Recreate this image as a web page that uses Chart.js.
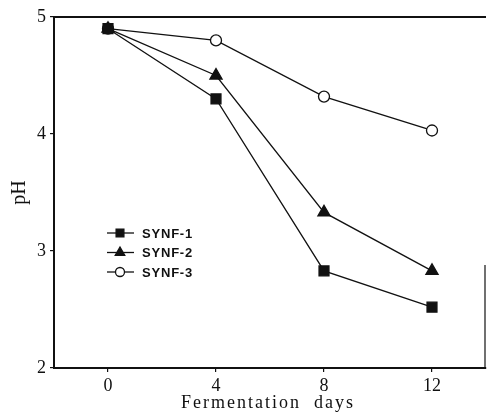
<!DOCTYPE html>
<html lang="en">
  <head>
    <meta charset="UTF-8" />
    <title>pH during fermentation</title>
    <script src="https://cdn.jsdelivr.net/npm/chart.js"></script>
    <style>
      html, body { margin: 0; padding: 0; background: #fff; overflow: hidden; }
      #wrap { position: relative; width: 487px; height: 420px; }
    </style>
  </head>
  <body>
    <div id="wrap"><canvas id="phChart"></canvas></div>
    <script>
      const days = [0, 4, 8, 12];
      const synf1 = [4.9, 4.3, 2.83, 2.52];
      const synf2 = [4.9, 4.5, 3.33, 2.83];
      const synf3 = [4.9, 4.8, 4.32, 4.03];
      const seriesNames = ["SYNF-1", "SYNF-2", "SYNF-3"];
      const xTicks = [0, 4, 8, 12];
      const yTicks = [2, 3, 4, 5];
      const xTitle = "Fermentation  days";

      const ink = "#111";
      const serif = "'Liberation Serif', 'DejaVu Serif', serif";

      const toPoints = (vals) => vals.map((v, i) => ({ x: days[i], y: v }));

      // box lines, x title and legend drawn by hand
      const framePlugin = {
        id: "frame",
        afterDraw(chart) {
          const { ctx, chartArea: a } = chart;
          ctx.save();
          ctx.strokeStyle = ink;
          ctx.lineWidth = 2;
          ctx.beginPath();
          ctx.moveTo(a.left, a.top);
          ctx.lineTo(a.right, a.top);
          ctx.stroke();
          ctx.lineWidth = 1.2;
          ctx.beginPath();
          ctx.moveTo(a.right - 1, a.top + 248);
          ctx.lineTo(a.right - 1, a.bottom);
          ctx.stroke();

          // x title, spaced out like the scan
          ctx.fillStyle = ink;
          ctx.font = "18px " + serif;
          ctx.letterSpacing = "2px";
          ctx.textAlign = "center";
          ctx.textBaseline = "middle";
          ctx.fillText(xTitle, (a.left + a.right) / 2 - 2, 403);

          // legend
          const lx = 107, ly = 233, gap = 19.5;
          chart.data.datasets.forEach((ds, i) => {
            const y = ly + i * gap;
            ctx.strokeStyle = ink;
            ctx.lineWidth = 1.3;
            ctx.beginPath();
            ctx.moveTo(lx, y);
            ctx.lineTo(lx + 27, y);
            ctx.stroke();
            ctx.fillStyle = ds.pointBackgroundColor;
            Chart.helpers.drawPoint(ctx, {
              pointStyle: ds.pointStyle,
              radius: ds.pointStyle === "circle" ? 4.5 : 5.5,
              borderWidth: 1.3
            }, lx + 13, y);
            ctx.fillStyle = ink;
            ctx.font = "bold 13px 'Liberation Sans', Arial, sans-serif";
            ctx.letterSpacing = "0.8px";
            ctx.textAlign = "left";
            ctx.fillText(ds.label, lx + 35, y + 1);
          });
          ctx.restore();
        }
      };

      const lineStyle = (label, data, style, fill, radius) => ({
        label: label,
        data: toPoints(data),
        borderColor: ink,
        borderWidth: 1.3,
        pointStyle: style,
        pointRadius: radius,
        pointBackgroundColor: fill,
        pointBorderColor: ink,
        pointBorderWidth: 1.3,
        tension: 0
      });

      new Chart(document.getElementById("phChart"), {
        type: "line",
        data: {
          datasets: [
            lineStyle(seriesNames[0], synf1, "rect", ink, 7),
            lineStyle(seriesNames[1], synf2, "triangle", ink, 7),
            lineStyle(seriesNames[2], synf3, "circle", "#fff", 5.5)
          ]
        },
        options: {
          responsive: true,
          maintainAspectRatio: false,
          animation: false,
          layout: { autoPadding: false, padding: { top: 17, right: 1, left: 0, bottom: 0 } },
          plugins: {
            legend: { display: false },
            tooltip: { enabled: false }
          },
          scales: {
            x: {
              type: "linear",
              min: -2,
              max: 14,
              afterBuildTicks: (s) => { s.ticks = xTicks.map((v) => ({ value: v })); },
              afterFit: (s) => { s.height = 52; s.paddingLeft = 0; s.paddingRight = 0; },
              grid: { display: true, drawOnChartArea: false, drawTicks: true, tickLength: 4, color: ink, lineWidth: 1.2 },
              border: { display: true, color: ink, width: 2 },
              ticks: { color: ink, padding: 3, font: { family: serif, size: 18 }, maxRotation: 0 }
            },
            y: {
              min: 2,
              max: 5,
              afterBuildTicks: (s) => { s.ticks = yTicks.map((v) => ({ value: v })); },
              afterFit: (s) => { s.width = 54; },
              grid: { display: true, drawOnChartArea: false, drawTicks: true, tickLength: 4, color: ink, lineWidth: 1.2 },
              border: { display: true, color: ink, width: 2 },
              ticks: { color: ink, padding: 4, font: { family: serif, size: 18 } },
              title: {
                display: true,
                text: "pH",
                color: ink,
                font: { family: serif, size: 20 },
                padding: { top: 8, bottom: 0 }
              }
            }
          }
        },
        plugins: [framePlugin]
      });
    </script>
  </body>
</html>
